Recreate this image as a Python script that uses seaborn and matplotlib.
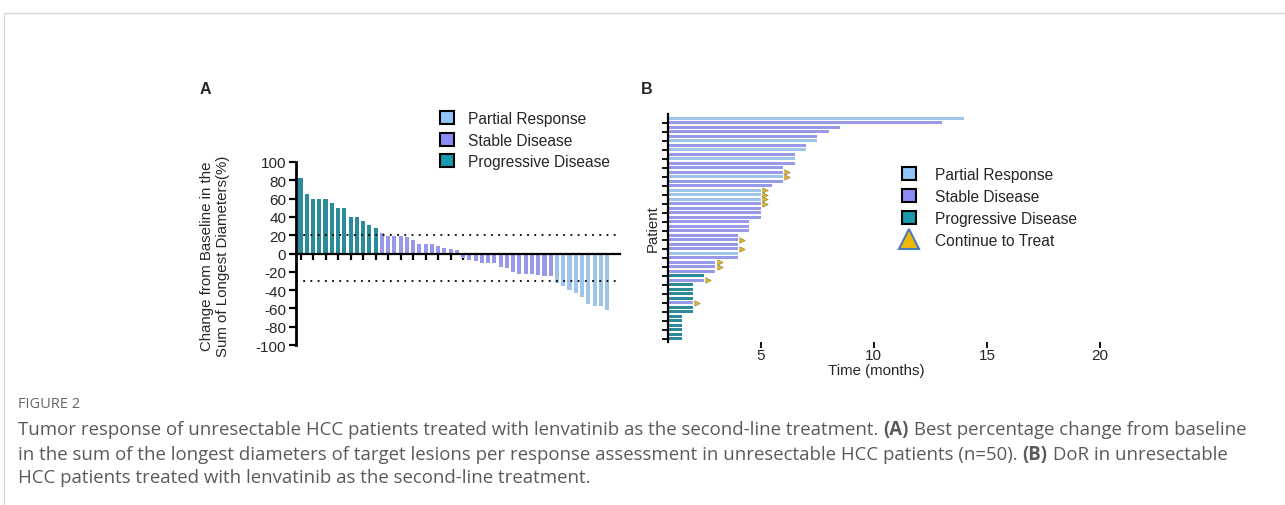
import matplotlib
matplotlib.use("Agg")
import matplotlib.pyplot as plt
from matplotlib.patches import Patch, Rectangle
from matplotlib.lines import Line2D
import numpy as np
import seaborn as sns

sns.set_theme(style="white")
plt.rcParams["font.family"] = ["Liberation Sans", "DejaVu Sans"]
plt.rcParams["axes.unicode_minus"] = False

# ---- panel A: best % change per patient (waterfall) ----
pd_change = [83, 65, 60, 60, 60, 55, 50, 50, 40, 40, 36, 31, 28]
sd_change = [22, 19.5, 19, 19, 18.5, 15, 10, 10, 10, 8, 6, 5, 3.7,
             -5, -7, -8, -10, -10, -10, -14.5, -16, -20, -22, -22, -22, -24, -25, -25]
pr_change = [-32, -35, -40, -43, -47, -55, -57, -57, -62]

# ---- panel B: duration of response (swimmer) ----
months = [14, 13, 8.5, 8, 7.5, 7.5, 7, 7, 6.5, 6.5, 6.5, 6, 6, 6, 6, 5.5,
          5, 5, 5, 5, 5, 5, 5, 4.5, 4.5, 4.5, 4, 4, 4, 4, 4, 4, 3, 3, 3,
          2.5, 2.5, 2, 2, 2, 2, 2, 2, 2, 1.5, 1.5, 1.5, 1.5, 1.5, 1.5]
resp_b = ["PR", "SD", "SD", "SD", "SD", "PR", "SD", "PR", "SD", "PR",
          "SD", "SD", "SD", "PR", "SD", "SD", "PR", "PR", "PR", "SD",
          "SD", "SD", "SD", "SD", "SD", "SD", "SD", "SD", "SD", "SD",
          "PR", "SD", "SD", "SD", "SD", "PD", "SD", "PD", "PD", "PD",
          "PD", "SD", "PD", "PD", "PD", "PD", "PD", "PD", "PD", "PD"]
continuing = [12, 13, 16, 17, 18, 19, 27, 29, 32, 33, 36, 41]

labels = {"PR": "Partial Response", "SD": "Stable Disease", "PD": "Progressive Disease"}
colors = {"PR": "#92c4f7", "SD": "#8b8bf8", "PD": "#1899ae"}
tri_face, tri_edge = "#f2b705", "#4a7db5"

fig = plt.figure(figsize=(12.85, 5.06), dpi=100)
W, H = 1285, 506

# outer frame of the figure box
fig.add_artist(Rectangle((4 / W, -0.1), 2, 1 - 14 / H + 0.1, transform=fig.transFigure,
                         fill=False, edgecolor="#d6d6d6", lw=1))

# ---------------- panel A ----------------
axa = fig.add_axes([296 / W, 1 - 346 / H, 324 / W, 183 / H])
vals_a = pd_change + sd_change + pr_change
resp_a = ["PD"] * len(pd_change) + ["SD"] * len(sd_change) + ["PR"] * len(pr_change)
idx_a = list(range(len(vals_a)))
sns.barplot(x=idx_a, y=vals_a, hue=resp_a, palette=colors, dodge=False,
            width=0.65, errorbar=None, legend=False, ax=axa, linewidth=0)
axa.set_xlim(-0.72, 51.07)
axa.set_ylim(-100, 100)
axa.axhline(20, color="black", lw=1.3, ls=(0, (1, 3)), zorder=5)
axa.axhline(-30, color="black", lw=1.3, ls=(0, (1, 3)), zorder=5)
for s in ["top", "right"]:
    axa.spines[s].set_visible(False)
axa.spines["bottom"].set_position(("data", 0))
axa.spines["bottom"].set_linewidth(1.6)
axa.spines["bottom"].set_color("black")
axa.spines["left"].set_linewidth(2)
axa.spines["left"].set_color("black")
axa.set_xticks(np.arange(0, 50, 2))
axa.set_xticklabels([])
axa.set_yticks(np.arange(-100, 101, 20))
axa.tick_params(axis="x", direction="out", length=4, width=1.6, color="black", bottom=True)
axa.tick_params(axis="y", direction="out", length=5, width=1.6, color="black", left=True,
                labelsize=11, pad=2)
axa.set_xlabel("")
axa.set_ylabel("")
fig.text(215 / W, 1 - 256 / H, "Change from Baseline in the\nSum of Longest Diameters(%)",
         rotation=90, ha="center", va="center", fontsize=10.8, multialignment="center")
fig.text(205 / W, 1 - 90 / H, "A", fontsize=11.5, weight="bold", ha="center", va="center")

hand_a = [Patch(facecolor=colors[k], edgecolor="black", lw=1.5, label=labels[k])
          for k in ["PR", "SD", "PD"]]
fig.legend(handles=hand_a, loc="upper left", bbox_to_anchor=(440 / W, 1 - 112 / H),
           frameon=False, fontsize=11.2, handlelength=0.9, handleheight=0.9,
           handletextpad=0.9, labelspacing=0.42, borderaxespad=0, borderpad=0)

# ---------------- panel B ----------------
axb = fig.add_axes([668 / W, 1 - 342.5 / H, 432 / W, 227.7 / H])
rows = list(range(len(months)))
sns.barplot(x=months, y=rows, hue=resp_b, palette=colors, orient="h", dodge=False,
            width=0.72, errorbar=None, legend=False, ax=axb, linewidth=0)
cont_x = [months[i] + 0.18 for i in continuing]
sns.scatterplot(x=cont_x, y=continuing, marker=">", s=15, color=tri_face,
                edgecolor="#8a8a70", linewidth=0.5, ax=axb, zorder=6)
axb.set_xlim(0.9, 20)
axb.set_ylim(49.6, -1.0)
for s in ["top", "right", "bottom"]:
    axb.spines[s].set_visible(False)
axb.spines["left"].set_linewidth(1.6)
axb.spines["left"].set_color("black")
axb.set_yticks(np.arange(1, 50, 2))
axb.set_yticklabels([])
axb.set_xticks([5, 10, 15, 20])
axb.tick_params(axis="y", direction="out", length=4, width=1.3, color="black", left=True)
axb.tick_params(axis="x", direction="out", length=4, width=1.3, color="black", bottom=True,
                labelsize=11, pad=1)
axb.set_ylabel("Patient", fontsize=10.8, labelpad=-1.5)
axb.set_xlabel("Time (months)", fontsize=10.8, labelpad=0)
axb.xaxis.set_label_coords((876 - 668) / 432, -0.095)
fig.text(647 / W, 1 - 90 / H, "B", fontsize=11.5, weight="bold", ha="center", va="center")

hand_b = [Patch(facecolor=colors[k], edgecolor="black", lw=1.5, label=labels[k])
          for k in ["PR", "SD", "PD"]]
hand_b.append(Line2D([], [], marker="^", ls="none", markersize=14, markerfacecolor=tri_face,
                     markeredgecolor=tri_edge, markeredgewidth=1.5, label="Continue to Treat"))
fig.legend(handles=hand_b, loc="upper left", bbox_to_anchor=(902 / W, 1 - 168 / H),
           frameon=False, fontsize=11.2, handlelength=0.9, handleheight=0.9,
           handletextpad=1.25, labelspacing=0.45, borderaxespad=0, borderpad=0)

# ---------------- caption ----------------
cap_color = "#5a5a5a"
fig.text(18 / W, 1 - 405 / H, "FIGURE 2", fontsize=10.5, color="#666666", va="center",
         family=["Open Sans", "DejaVu Sans"])

renderer = fig.canvas.get_renderer()


def rich_line(x, y, parts):
    for txt, weight in parts:
        t = fig.text(x, y, txt, fontsize=13.4, color=cap_color, weight=weight, va="center",
                     family=["Open Sans", "DejaVu Sans"])
        x += t.get_window_extent(renderer=renderer).width / W


rich_line(18 / W, 1 - 430 / H, [
    ("Tumor response of unresectable HCC patients treated with lenvatinib as the second-line treatment. ", "normal"),
    ("(A)", "bold"),
    (" Best percentage change from baseline", "normal")])
rich_line(18 / W, 1 - 455 / H, [
    ("in the sum of the longest diameters of target lesions per response assessment in unresectable HCC patients (n=50). ", "normal"),
    ("(B)", "bold"),
    (" DoR in unresectable", "normal")])
rich_line(18 / W, 1 - 478 / H, [
    ("HCC patients treated with lenvatinib as the second-line treatment.", "normal")])

fig.savefig("out.png", dpi=100)
